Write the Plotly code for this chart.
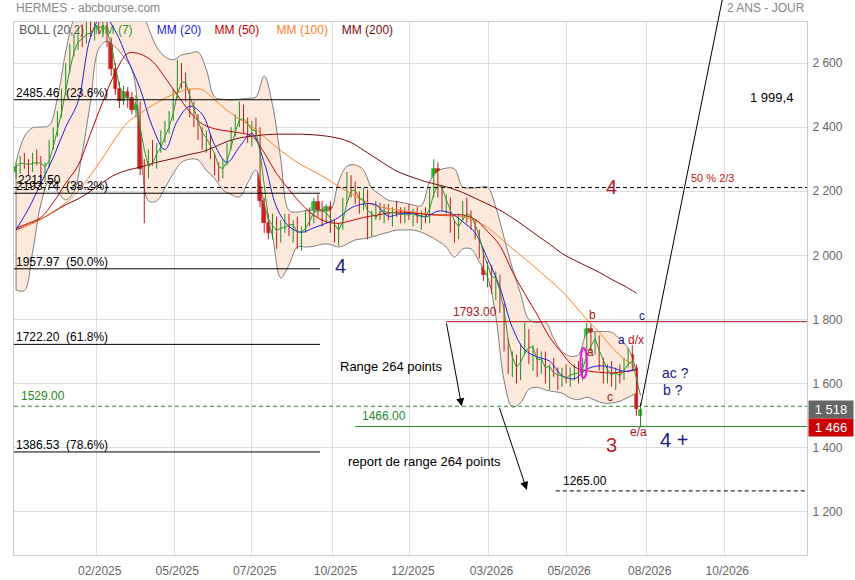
import pandas as pd
import plotly.graph_objects as go

# ---------------- data ----------------
DATES = pd.date_range("2024-11-29", periods=152, freq="4D")
OPEN = [2260,2275,2300,2285,2265,2310,2295,2255,2280,2350,2385,2440,2510,2590,2640,2670,2690,2665,2715,2700,
        2720,2705,2725,2670,2580,2520,2480,2510,2490,2455,2470,2270,2250,2310,2300,2340,2370,2400,2430,2500,
        2580,2540,2500,2450,2420,2380,2350,2370,2310,2270,2250,2290,2340,2390,2420,2460,2400,2370,2405,2390,
        2170,2100,2070,2110,2050,2095,2115,2075,2100,2040,2080,2130,2110,2165,2140,2110,2150,2085,2060,2090,
        2170,2230,2200,2180,2150,2195,2070,2130,2150,2125,2145,2120,2140,2130,2115,2140,2120,2135,2110,2130,
        2115,2190,2270,2200,2160,2170,2090,2060,2120,2150,2120,2100,2070,2010,1940,1960,1900,1930,1840,1720,
        1650,1680,1620,1700,1760,1680,1700,1640,1690,1620,1650,1630,1600,1640,1610,1630,1650,1620,1670,1770,
        1710,1740,1660,1620,1650,1610,1640,1620,1670,1690,1650,1500]
HIGH = [2290,2310,2320,2300,2320,2330,2310,2290,2360,2400,2450,2520,2600,2660,2690,2710,2720,2730,2740,2735,
        2745,2740,2740,2680,2600,2540,2530,2525,2510,2500,2480,2300,2330,2360,2350,2390,2420,2450,2520,2610,
        2600,2570,2520,2480,2440,2400,2390,2380,2320,2290,2300,2350,2400,2440,2480,2470,2430,2420,2430,2400,
        2180,2130,2130,2120,2110,2130,2130,2110,2120,2090,2140,2150,2180,2190,2170,2160,2170,2110,2100,2180,
        2260,2250,2230,2200,2210,2205,2140,2170,2165,2160,2160,2150,2170,2150,2150,2160,2145,2150,2140,2150,
        2210,2300,2290,2220,2190,2180,2110,2130,2170,2180,2140,2110,2080,2020,1980,1970,1950,1940,1850,1740,
        1700,1690,1720,1790,1770,1720,1710,1700,1700,1660,1680,1650,1650,1660,1650,1660,1670,1680,1790,1785,
        1760,1750,1680,1660,1670,1650,1660,1680,1710,1720,1660,1540]
LOW = [2240,2255,2270,2250,2260,2280,2240,2230,2275,2330,2370,2430,2500,2570,2620,2640,2650,2660,2680,2670,
       2690,2680,2650,2560,2500,2460,2470,2460,2440,2430,2250,2100,2240,2280,2270,2320,2350,2380,2420,2490,
       2520,2480,2430,2400,2360,2330,2320,2300,2250,2230,2240,2280,2330,2370,2400,2380,2350,2340,2370,2150,
       2070,2050,2050,2020,2040,2070,2060,2040,2020,2015,2070,2090,2100,2120,2090,2100,2070,2040,2030,2080,
       2160,2180,2160,2130,2140,2050,2060,2110,2110,2100,2110,2090,2120,2100,2100,2110,2090,2100,2080,2100,
       2100,2180,2180,2140,2130,2070,2040,2050,2110,2100,2080,2050,1990,1920,1900,1880,1860,1820,1700,1630,
       1620,1600,1610,1690,1660,1640,1620,1630,1600,1580,1620,1580,1590,1600,1590,1610,1600,1610,1660,1700,
       1690,1640,1600,1600,1590,1580,1600,1610,1650,1640,1500,1466]
CLOSE = [2275,2300,2285,2265,2310,2295,2255,2280,2350,2385,2440,2510,2590,2640,2670,2690,2665,2715,2700,2720,
         2705,2725,2670,2580,2520,2480,2510,2490,2455,2470,2270,2250,2310,2300,2340,2370,2400,2430,2500,2580,
         2540,2500,2450,2420,2380,2350,2370,2310,2270,2250,2290,2340,2390,2420,2460,2400,2370,2405,2390,2170,
         2100,2070,2110,2050,2095,2115,2075,2100,2040,2080,2130,2110,2165,2140,2110,2150,2085,2060,2090,2170,
         2230,2200,2180,2150,2195,2070,2130,2150,2125,2145,2120,2140,2130,2115,2140,2120,2135,2110,2130,2115,
         2190,2270,2200,2160,2170,2090,2060,2120,2150,2120,2100,2070,2010,1940,1960,1900,1930,1840,1720,1650,
         1680,1620,1700,1760,1680,1700,1640,1690,1620,1650,1630,1600,1640,1610,1630,1650,1620,1670,1770,1710,
         1740,1660,1620,1650,1610,1640,1620,1670,1690,1650,1520,1518]

MA_DATES = pd.date_range("2024-11-29", periods=51, freq="12D")
MM20 = [2080,2145,2225,2305,2400,2480,2680,2750,2700,2610,2520,2400,2330,2420,2465,2440,2345,2290,2338,2380,
        2290,2150,2090,2072,2086,2100,2118,2148,2160,2158,2122,2130,2130,2120,2138,2132,2105,2070,1990,1900,
        1775,1705,1683,1670,1625,1615,1645,1655,1650,1638,1645]
MM50 = [2085,2100,2118,2165,2225,2280,2380,2480,2570,2630,2628,2605,2555,2500,2448,2410,2395,2388,2382,2372,
        2320,2255,2205,2160,2125,2105,2100,2108,2118,2125,2132,2135,2132,2128,2126,2126,2126,2112,2075,2030,
        1950,1880,1815,1745,1695,1652,1640,1635,1633,1637,1642]
MM100 = [2078,2095,2112,2137,2163,2200,2250,2305,2365,2415,2443,2468,2490,2508,2518,2517,2485,2453,2425,2402,
         2370,2337,2308,2282,2262,2240,2215,2193,2170,2155,2146,2141,2135,2128,2125,2123,2121,2108,2087,2055,
         2021,1990,1957,1923,1888,1845,1800,1760,1714,1677,1652]
MM200 = [2080,2095,2113,2135,2158,2176,2200,2228,2252,2266,2275,2287,2296,2305,2315,2323,2338,2355,2366,2372,
         2376,2378,2378,2378,2376,2372,2365,2352,2328,2303,2278,2257,2243,2230,2220,2210,2196,2178,2160,2141,
         2117,2090,2062,2035,2006,1985,1966,1947,1925,1905,1882]

BB_DATES = pd.date_range("2024-11-29", periods=76, freq="8D")
BB_UP = [2290,2370,2398,2400,2405,2490,2635,2740,2790,2800,2790,2780,2790,2800,2810,2780,2710,2650,2620,2610,
         2625,2630,2634,2580,2494,2487,2485,2487,2490,2494,2560,2470,2300,2140,2135,2140,2141,2141,2141,2230,
         2278,2282,2266,2210,2190,2172,2168,2163,2157,2155,2230,2262,2272,2270,2213,2210,2212,2213,2150,2055,
         1960,1880,1800,1790,1792,1740,1700,1685,1690,1755,1762,1762,1760,1738,1710,1640]
BB_LOW = [1892,1890,2010,2160,2230,2200,2173,2200,2320,2480,2645,2668,2650,2620,2580,2400,2170,2170,2210,2255,
          2290,2300,2298,2265,2240,2204,2190,2182,2225,2266,2160,2060,1930,1970,2026,2026,2028,2035,2034,2026,
          2035,2048,2052,2057,2065,2072,2079,2079,2079,2072,2060,2045,2026,1995,2020,2020,1980,1933,1810,1610,
          1527,1540,1582,1588,1580,1575,1570,1555,1550,1557,1548,1539,1539,1545,1557,1570]

FIB_LEVELS = [2485.46, 2193.74, 1957.97, 1722.20, 1386.53]
FIB_TEXT = ["2485.46\u00a0\u00a0(23.6%)", "2193.74\u00a0\u00a0(38.2%)", "1957.97\u00a0\u00a0(50.0%)",
            "1722.20\u00a0\u00a0(61.8%)", "1386.53\u00a0\u00a0(78.6%)"]
LEGEND_TEXT = ["BOLL (20,2)", "MM (7)", "MM (20)", "MM (50)", "MM (100)", "MM (200)"]
LEGEND_DATES = ["2024-12-02", "2025-02-13", "2025-04-14", "2025-06-09", "2025-08-08", "2025-10-10"]
LEGEND_COLORS = ["#555555", "#2e9a2e", "#1f1fe0", "#c80000", "#ff7f27", "#7a0a0a"]
Y_TICKS = [1200, 1400, 1600, 1800, 2000, 2200, 2400, 2600]
Y_TICKTEXT = ["1 200", "1 400", "1 600", "1 800", "2 000", "2 200", "2 400", "2 600"]
X_TICKS = ["2025-02-15", "2025-05-01", "2025-07-15", "2025-10-01", "2025-12-15",
           "2026-03-01", "2026-05-15", "2026-08-01", "2026-10-15"]
X_TICKTEXT = ["02/2025", "05/2025", "07/2025", "10/2025", "12/2025", "03/2026", "05/2026", "08/2026", "10/2026"]

X_START, X_END = "2024-11-27", "2027-01-03"
Y_MIN, Y_MAX = 1065, 2728
FONT = "Liberation Sans, Arial, sans-serif"

# ---------------- indicators / candle pieces ----------------
close_s = pd.Series(CLOSE, index=DATES)
mm7 = close_s.rolling("10D").mean()

up = [c >= o for o, c in zip(OPEN, CLOSE)]
body_base = [min(o, c) for o, c in zip(OPEN, CLOSE)]
body_h = [max(abs(c - o), 3) for o, c in zip(OPEN, CLOSE)]
wick = {True: ([], []), False: ([], [])}
for d, h, l, u in zip(DATES, HIGH, LOW, up):
    wick[u][0].extend([d, d, None])
    wick[u][1].extend([l, h, None])

fig = go.Figure()
fig.add_trace(go.Scatter(x=BB_DATES, y=BB_LOW, mode="lines", line=dict(color="#7d7d7d", width=1, shape="spline"),
                         hoverinfo="skip", showlegend=False))
fig.add_trace(go.Scatter(x=BB_DATES, y=BB_UP, mode="lines", line=dict(color="#7d7d7d", width=1, shape="spline"),
                         fill="tonexty", fillcolor="#fce9dc", hoverinfo="skip", showlegend=False))
fig.add_trace(go.Scatter(x=[BB_DATES[0], BB_DATES[0]], y=[BB_LOW[0], BB_UP[0]], mode="lines",
                         line=dict(color="#7d7d7d", width=1), hoverinfo="skip", showlegend=False))
fig.add_trace(go.Scatter(x=LEGEND_DATES, y=[2700] * len(LEGEND_TEXT), mode="text", text=LEGEND_TEXT,
                         textposition="middle right",
                         textfont=dict(color=LEGEND_COLORS, size=12, family=FONT),
                         hoverinfo="skip", showlegend=False))
for u, col in [(True, "#1e8c1e"), (False, "#c01818")]:
    fig.add_trace(go.Scatter(x=wick[u][0], y=wick[u][1], mode="lines", line=dict(color=col, width=1),
                             hoverinfo="skip", showlegend=False))
fig.add_trace(go.Bar(x=DATES, y=body_h, base=body_base, width=3.4 * 86400000,
                     marker=dict(color=["#33cc33" if u else "#dd2222" for u in up],
                                 line=dict(color=["#1e8c1e" if u else "#c01818" for u in up], width=0.6)),
                     hoverinfo="skip", showlegend=False))
for vals, col in [(MM200, "#7a0a0a"), (MM100, "#ff7f27"), (MM50, "#c80000"), (MM20, "#1f1fe0")]:
    fig.add_trace(go.Scatter(x=MA_DATES, y=vals, mode="lines", line=dict(color=col, width=1, shape="spline"),
                             hoverinfo="skip", showlegend=False))
fig.add_trace(go.Scatter(x=DATES, y=mm7, mode="lines", line=dict(color="#2e9a2e", width=1),
                         hoverinfo="skip", showlegend=False))


def ypaper(v):
    return (v - Y_MIN) / (Y_MAX - Y_MIN)


shapes = []
for lv in FIB_LEVELS:
    shapes.append(dict(type="line", xref="x", yref="y", x0=X_START, x1="2025-09-19", y0=lv, y1=lv,
                       line=dict(color="black", width=1)))
shapes += [
    dict(type="line", xref="paper", yref="y", x0=0, x1=1, y0=2211.5, y1=2211.5,
         line=dict(color="black", width=1, dash="4px,3px")),
    dict(type="line", xref="paper", yref="y", x0=0, x1=1, y0=1529, y1=1529,
         line=dict(color="#2a8a2a", width=1, dash="4px,3px")),
    dict(type="line", xref="x", yref="y", x0="2025-10-23", x1=X_END, y0=1466, y1=1466,
         line=dict(color="#2a8a2a", width=1)),
    dict(type="line", xref="x", yref="y", x0="2026-01-19", x1=X_END, y0=1793, y1=1793,
         line=dict(color="#b01515", width=1)),
    dict(type="line", xref="x", yref="y", x0="2026-05-05", x1=X_END, y0=1265, y1=1265,
         line=dict(color="black", width=1, dash="4px,3px")),
    dict(type="line", xref="x", yref="paper", x0="2026-07-26", x1="2026-10-13",
         y0=ypaper(1529), y1=ypaper(2797), line=dict(color="black", width=1)),
    dict(type="circle", xref="x", yref="y", x0="2026-05-29", x1="2026-06-04", y0=1617, y1=1711,
         line=dict(color="#e020e0", width=2)),
]

ann = []


def txt(x, y, s, color="black", size=12, xanchor="center", yanchor="middle", xref="x", yref="y", **kw):
    ann.append(dict(x=x, y=y, text=s, xref=xref, yref=yref, showarrow=False, xanchor=xanchor,
                    yanchor=yanchor, font=dict(color=color, size=size, family=FONT), **kw))


for lv, t in zip(FIB_LEVELS, FIB_TEXT):
    txt(0, lv, t, xref="paper", xanchor="left", yanchor="bottom", yshift=-2)
txt(0, 2211.5, "2211.50", xref="paper", xanchor="left", yanchor="bottom", xshift=2, yshift=-1)
txt(0, 1529, "1529.00", color="#2a8a2a", xref="paper", xanchor="left", yanchor="bottom", xshift=5, yshift=1)
txt("2025-10-23", 1466, "1466.00", color="#2a8a2a", xanchor="left", yanchor="bottom", xshift=5, yshift=1)
txt("2026-01-19", 1793, "1793.00", color="#b01515", xanchor="left", yanchor="bottom", xshift=5, yshift=1)
txt("2026-05-05", 1265, "1265.00", xanchor="left", yanchor="bottom", xshift=5, yshift=1)
txt("2025-11-27", 1652, "Range 264 points", size=13)
txt("2025-12-29", 1358, "report de range 264 points", size=13)
txt("2026-11-30", 2494, "1 999,4", size=13)
txt("2026-10-04", 2241, "50 % 2/3", color="#c01818", size=11)
txt("2026-06-28", 2212, "4", color="#b8202a", size=20)
txt("2025-10-09", 1967, "4", color="#1a1a80", size=20)
txt("2026-06-28", 1408, "3", color="#b8202a", size=20)
txt("2026-08-27", 1424, "4 +", color="#1a1a80", size=20)
txt("2026-08-29", 1633, "ac ?", color="#1a1a80", size=14)
txt("2026-08-26", 1580, "b ?", color="#1a1a80", size=14)
txt("2026-06-10", 1814, "b", color="#b01515", size=12)
txt("2026-07-27", 1811, "c", color="#1a1a80", size=12)
txt("2026-07-08", 1736, "a", color="#1a1a80", size=12)
txt("2026-07-22", 1736, "d/x", color="#b01515", size=12)
txt("2026-06-08", 1698, "a", color="#b01515", size=12)
txt("2026-06-26", 1558, "c", color="#b01515", size=12)
txt("2026-07-24", 1449, "e/a", color="#b01515", size=12)
txt(0, 1.026, "HERMES - abcbourse.com", color="#888888", xref="paper", yref="paper", xanchor="left")
txt(1, 1.026, "2 ANS - JOUR", color="#888888", xref="paper", yref="paper", xanchor="right")
ann.append(dict(x=1, y=1518, xref="paper", yref="y", text="1 518", showarrow=False, xanchor="left",
                font=dict(color="white", size=13, family=FONT), bgcolor="#666666", width=42, height=15,
                borderpad=1, xshift=1))
ann.append(dict(x=1, y=1462, xref="paper", yref="y", text="1 466", showarrow=False, xanchor="left",
                font=dict(color="white", size=13, family=FONT), bgcolor="#cc0000", width=42, height=15,
                borderpad=1, xshift=1))
ann.append(dict(x="2026-02-03", y=1529, ax="2026-01-19", ay=1793, xref="x", yref="y", axref="x", ayref="y",
                showarrow=True, arrowhead=2, arrowsize=1.6, arrowwidth=1, arrowcolor="black", text=""))
ann.append(dict(x="2026-04-07", y=1268, ax="2026-03-11", ay=1529, xref="x", yref="y", axref="x", ayref="y",
                showarrow=True, arrowhead=2, arrowsize=1.6, arrowwidth=1, arrowcolor="black", text=""))

fig.update_layout(
    width=855, height=580, margin=dict(l=14, r=48, t=22, b=25, autoexpand=False),
    paper_bgcolor="white", plot_bgcolor="white", showlegend=False, bargap=0,
    font=dict(family=FONT, size=12, color="#666666"),
    shapes=shapes, annotations=ann,
    xaxis=dict(type="date", range=[X_START, X_END], tickvals=X_TICKS, ticktext=X_TICKTEXT,
               showgrid=True, gridcolor="#dddddd", gridwidth=1, showline=True, linecolor="#cccccc",
               mirror=True, ticks="outside", ticklen=5, tickcolor="rgba(0,0,0,0)", zeroline=False,
               ticklabelshift=3, automargin=False, tickfont=dict(color="#666666", size=12)),
    yaxis=dict(side="right", range=[Y_MIN, Y_MAX], tickvals=Y_TICKS, ticktext=Y_TICKTEXT,
               showgrid=True, gridcolor="#dddddd", gridwidth=1, showline=True, linecolor="#cccccc",
               mirror=True, ticks="outside", ticklen=2, tickcolor="rgba(0,0,0,0)", zeroline=False,
               automargin=False, tickfont=dict(color="#666666", size=12)),
)
fig.write_html("out.html", config={"displayModeBar": False},
               post_script="document.body.style.margin='0px';")
